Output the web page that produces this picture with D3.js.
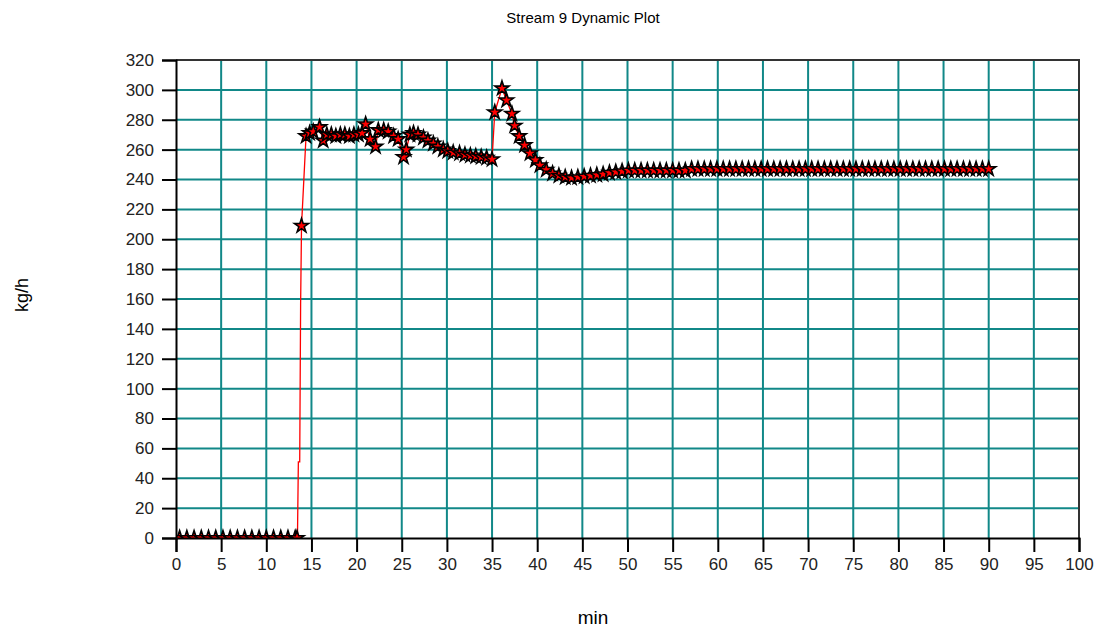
<!DOCTYPE html>
<html>
<head>
<meta charset="utf-8">
<script src="https://cdn.jsdelivr.net/npm/d3@7"></script>
<style>
  body { margin: 0; background: #fff; }
  svg { font-family: "Liberation Sans", Arial, sans-serif; }
</style>
</head>
<body>
<div id="chart"></div>
<script>
var width = 1107;
var height = 635;

// sampled points (with star markers)
var times = [
	0.4, 1.2, 2.0, 2.8, 3.6, 4.4, 5.2, 6.0, 6.8, 7.6, 8.4, 9.2, 10.0, 10.8, 11.6, 12.4, 13.2, 13.4,
	13.9, 14.4, 14.8, 15.2, 15.9, 16.3, 16.7, 17.2, 17.7, 18.2, 18.7, 19.2, 19.7, 20.2, 20.6,
	21.0, 21.5, 22.1, 22.4, 23.0, 23.5, 24.1, 24.6, 25.2, 25.5, 25.9, 26.3, 26.8, 27.4, 27.9,
	28.5, 29.0, 29.6, 30.1, 30.7, 31.4, 32.0, 32.6, 33.2, 33.8, 34.4, 35.0, 35.3, 36.1, 36.6,
	37.2, 37.5, 38.0, 38.6, 39.2, 39.8, 40.3, 41.0, 41.7, 42.4, 43.1, 43.8, 44.5, 45.2, 45.9,
	46.6, 47.3, 48.0, 48.7, 49.4, 50.1, 50.8,
	51.5, 52.2, 52.9, 53.6, 54.3, 55.0, 55.7, 56.4, 57.1, 57.8, 58.5, 59.2, 59.9, 60.6, 61.3,
	62.0, 62.7, 63.4, 64.1, 64.8, 65.5, 66.2, 66.9, 67.6, 68.3, 69.0, 69.7, 70.4, 71.1, 71.8,
	72.5, 73.2, 73.9, 74.6, 75.3, 76.0, 76.7, 77.4, 78.1, 78.8, 79.5, 80.2, 80.9, 81.6, 82.3,
	83.0, 83.7, 84.4, 85.1, 85.8, 86.5, 87.2, 87.9, 88.6, 89.3, 90.0
];
var values = [
	0, 0, 0, 0, 0, 0, 0, 0, 0, 0, 0, 0, 0, 0, 0, 0, 0, 0,
	209, 269, 271, 272, 275, 266, 270, 270, 269, 270, 270, 269, 270, 270, 271,
	277, 267, 262, 273, 273, 272, 269, 267, 255, 260, 270, 271, 270, 268, 266,
	264, 262, 260, 259, 258, 257.5, 256.5, 256, 255.5, 255, 254.5, 253.5, 285, 301, 293,
	284, 276, 269, 263, 257.5, 253, 249.5, 246.5, 244, 242.5, 241.5, 241, 241.5, 242, 242.5,
	243, 243.5, 244.5, 245, 245.5, 246, 246,
	246, 246, 246, 246, 246, 246, 246, 246, 247, 247, 247, 247, 247, 247, 247,
	247, 247, 247, 247, 247, 247, 247, 247, 247, 247, 247, 247, 247, 247, 247,
	247, 247, 247, 247, 247, 247, 247, 247, 247, 247, 247, 247, 247, 247, 247,
	247, 247, 247, 247, 247, 247, 247, 247, 247, 247, 247
];

// extra line-only points on the steep rise (no markers)
var rampTimes = [13.45, 13.55, 13.7, 13.8];
var rampValues = [0, 51, 51, 156];

var xTicks = d3.range(0, 101, 5);
var yTicks = d3.range(0, 321, 20);

var margin = {left: 176, top: 60, right: 28, bottom: 97};
var plotW = width - margin.left - margin.right;
var plotH = height - margin.top - margin.bottom;

var xScale = d3.scaleLinear().domain([0, 100]).range([0, plotW]);
var yScale = d3.scaleLinear().domain([0, 320]).range([plotH, 0]);

var svg = d3.select("#chart").append("svg")
	.attr("width", width)
	.attr("height", height);

svg.append("text")
	.attr("x", 583)
	.attr("y", 23)
	.attr("text-anchor", "middle")
	.attr("font-size", "15px")
	.attr("fill", "#000")
	.text("Stream 9 Dynamic Plot");

svg.append("text")
	.attr("x", 593)
	.attr("y", 624)
	.attr("text-anchor", "middle")
	.attr("font-size", "19px")
	.attr("fill", "#000")
	.text("min");

svg.append("text")
	.attr("transform", "translate(28,295) rotate(-90)")
	.attr("text-anchor", "middle")
	.attr("font-size", "18px")
	.attr("fill", "#000")
	.text("kg/h");

var g = svg.append("g")
	.attr("transform", "translate(" + margin.left + "," + margin.top + ")");

svg.append("defs").append("clipPath")
	.attr("id", "plotClip")
	.append("rect")
	.attr("width", plotW)
	.attr("height", plotH);

// grid
g.selectAll(".vgrid")
	.data(xTicks.filter(function (d) { return d > 0 && d < 100; }))
	.enter().append("line")
	.attr("x1", function (d) { return xScale(d); })
	.attr("x2", function (d) { return xScale(d); })
	.attr("y1", 0)
	.attr("y2", plotH)
	.attr("stroke", "#118888")
	.attr("stroke-width", 2);

g.selectAll(".hgrid")
	.data(yTicks.filter(function (d) { return d > 0 && d < 320; }))
	.enter().append("line")
	.attr("y1", function (d) { return yScale(d); })
	.attr("y2", function (d) { return yScale(d); })
	.attr("x1", 0)
	.attr("x2", plotW)
	.attr("stroke", "#118888")
	.attr("stroke-width", 2);

// series
var points = times.map(function (t, i) { return {t: t, v: values[i]}; });
var linePoints = points.concat(rampTimes.map(function (t, i) { return {t: t, v: rampValues[i]}; }));
linePoints.sort(function (a, b) { return a.t - b.t; });

var line = d3.line()
	.x(function (d) { return xScale(d.t); })
	.y(function (d) { return yScale(d.v); });

var series = g.append("g").attr("clip-path", "url(#plotClip)");

series.append("path")
	.datum(linePoints)
	.attr("fill", "none")
	.attr("stroke", "#ff0000")
	.attr("stroke-width", 1.3)
	.attr("d", line);

var star = d3.symbol().type(d3.symbolStar).size(62);

series.selectAll(".marker")
	.data(points)
	.enter().append("path")
	.attr("transform", function (d) { return "translate(" + xScale(d.t) + "," + yScale(d.v) + ")"; })
	.attr("d", star)
	.attr("fill", "#ff0000")
	.attr("stroke", "#000")
	.attr("stroke-width", 1.6);

// border (top, right)
g.append("path")
	.attr("d", "M0,0H" + plotW + "V" + plotH)
	.attr("fill", "none")
	.attr("stroke", "#333")
	.attr("stroke-width", 2);

// axes
var yAxis = g.append("g")
	.call(d3.axisLeft(yScale).tickValues(yTicks).tickSize(14).tickPadding(8));
var xAxis = g.append("g")
	.attr("transform", "translate(0," + plotH + ")")
	.call(d3.axisBottom(xScale).tickValues(xTicks).tickSize(14).tickPadding(6));

[yAxis, xAxis].forEach(function (ax) {
	ax.select(".domain").attr("stroke", "#000").attr("stroke-width", 2);
	ax.selectAll(".tick line").attr("stroke", "#000").attr("stroke-width", 2);
	ax.selectAll(".tick text")
		.attr("font-family", "Liberation Sans, Arial, sans-serif")
		.attr("font-size", "17px")
		.attr("fill", "#222");
});
</script>
</body>
</html>
